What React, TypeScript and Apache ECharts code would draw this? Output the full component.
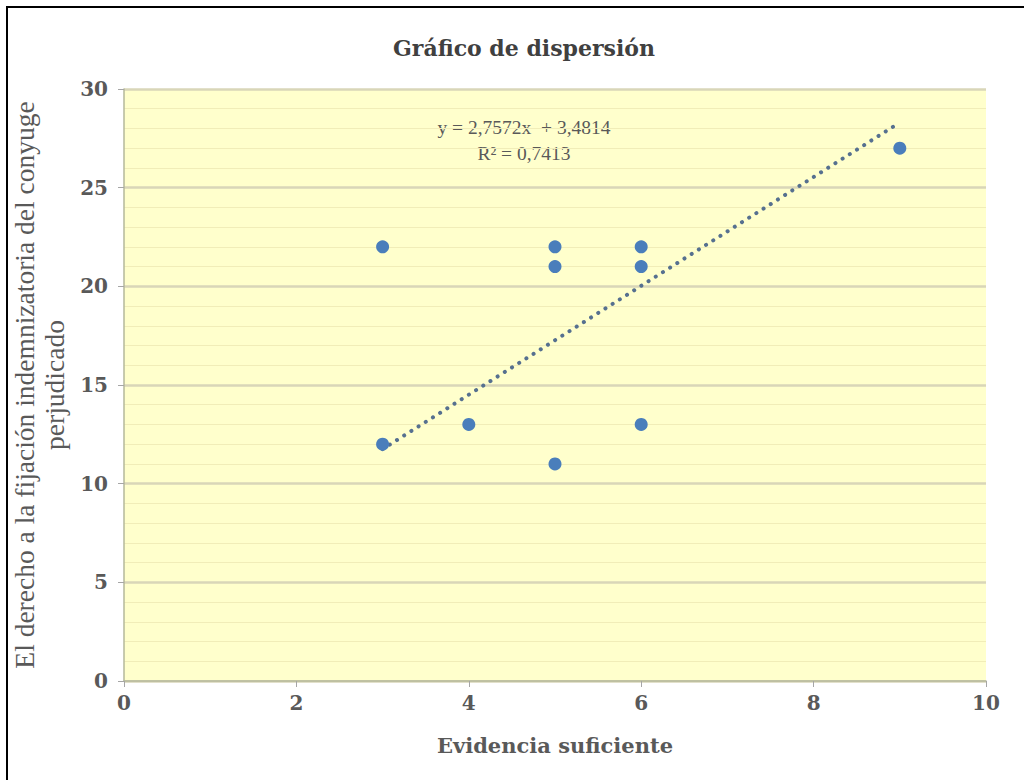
import React, { useEffect, useRef } from "react";
import * as echarts from "echarts";

const chartTitle = "Gráfico de dispersión";
const xAxisName = "Evidencia suficiente";
const yAxisName = "El derecho a la fijación indemnizatoria del conyuge\nperjudicado";
const equationLines = ["y = 2,7572x  + 3,4814", "R² = 0,7413"];

const xValues = [3, 3, 4, 5, 5, 5, 6, 6, 6, 9];
const yValues = [22, 12, 13, 22, 21, 11, 22, 21, 13, 27];

const trendX = [3, 9];
const trendY = [11.75, 28.3];

const SERIF_BOLD = "DejaVu Serif";
const SERIF = "Liberation Serif";

export default function App() {
  const ref = useRef<HTMLDivElement>(null);
  useEffect(() => {
    if (!ref.current) return;
    const chart = echarts.init(ref.current, undefined, { renderer: "svg" });
    const points = xValues.map((x, i) => [x, yValues[i]]);
    const trend = trendX.map((x, i) => [x, trendY[i]]);
    chart.setOption({
      animation: false,
      backgroundColor: "#ffffff",
      title: {
        text: chartTitle,
        left: 388,
        top: 32,
        textStyle: { fontFamily: SERIF_BOLD, fontWeight: "bold", fontSize: 22, color: "#404040" },
      },
      grid: {
        left: 124,
        right: 38,
        top: 89,
        bottom: 99,
        show: true,
        backgroundColor: "#FFFFCC",
        borderWidth: 0,
        containLabel: false,
        outerBoundsMode: "none",
      },
      xAxis: {
        type: "value",
        min: 0,
        max: 10,
        interval: 2,
        name: xAxisName,
        nameLocation: "middle",
        nameGap: 54,
        nameTextStyle: { fontFamily: SERIF_BOLD, fontWeight: "bold", fontSize: 21, color: "#595959" },
        axisLine: { show: true, lineStyle: { color: "#B5B89A", width: 1.5 } },
        axisTick: { show: true, length: 6, lineStyle: { color: "#A6A6A6" } },
        axisLabel: { fontFamily: SERIF_BOLD, fontWeight: "bold", fontSize: 20, color: "#595959", margin: 12 },
        splitLine: { show: false },
      },
      yAxis: {
        type: "value",
        min: 0,
        max: 30,
        interval: 5,
        name: yAxisName,
        nameLocation: "middle",
        nameGap: 50,
        nameTextStyle: { fontFamily: SERIF, fontSize: 27.5, color: "#595959", lineHeight: 30, align: "center" },
        axisLine: { show: true, lineStyle: { color: "#B5B89A", width: 1.5 } },
        axisTick: { show: true, length: 6, lineStyle: { color: "#A6A6A6" } },
        axisLabel: { fontFamily: SERIF_BOLD, fontWeight: "bold", fontSize: 20, color: "#595959", margin: 16 },
        splitLine: { show: true, lineStyle: { color: "#D9D6B8", width: 2.5 } },
        minorTick: { show: false, splitNumber: 5 },
        minorSplitLine: { show: true, lineStyle: { color: "#F1EDB8", width: 1 } },
      },
      graphic: [
        {
          type: "text",
          x: 524,
          y: 114,
          style: {
            text: equationLines.join("\n"),
            fontFamily: SERIF,
            fontSize: 19.5,
            lineHeight: 26,
            fill: "#595959",
            align: "center",
          },
        },
        {
          type: "rect",
          shape: { x: 7, y: 7, width: 1100, height: 1000 },
          style: { fill: "none", stroke: "#000000", lineWidth: 2 },
          silent: true,
        },
      ],
      series: [
        {
          type: "line",
          data: trend,
          symbol: "none",
          lineStyle: { color: "#56708F", width: 4, type: [0.1, 8.4], cap: "round" },
          z: 3,
        },
        {
          type: "scatter",
          data: points,
          symbol: "circle",
          symbolSize: 13,
          itemStyle: { color: "#4A7EBB", opacity: 1 },
          z: 4,
        },
      ],
    });
    return () => chart.dispose();
  }, []);
  return <div ref={ref} style={{ position: "absolute", left: 0, top: 0, width: 1024, height: 780 }} />;
}
